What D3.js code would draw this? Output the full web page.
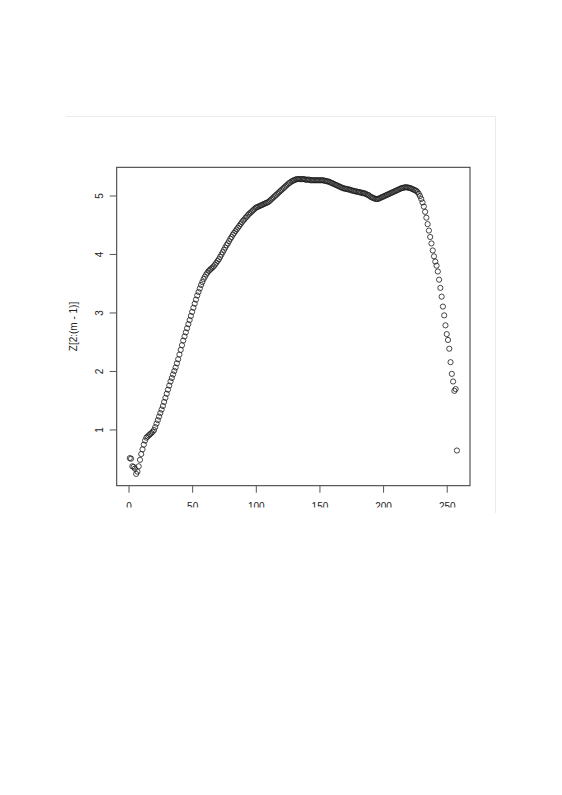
<!DOCTYPE html>
<html>
<head>
<meta charset="utf-8">
<title>Z[2:(m - 1)]</title>
<script src="https://d3js.org/d3.v7.min.js"></script>
<style>
  html, body { margin: 0; padding: 0; background: #fff; }
  svg { display: block; }
  text { font-family: "Liberation Sans", Arial, sans-serif; }
</style>
</head>
<body>
<svg id="chart" width="562" height="795"></svg>
<script>
// values (index 1..258)
var zValues = [
  0.51, 0.50, 0.37, 0.36, 0.33, 0.24, 0.28, 0.37, 0.48, 0.58,
  0.66, 0.74, 0.81, 0.86, 0.88, 0.90, 0.92, 0.94, 0.96, 0.99,
  1.04, 1.10, 1.16, 1.22, 1.28, 1.34, 1.40, 1.47, 1.54, 1.61,
  1.68, 1.75, 1.82, 1.88, 1.94, 2.00, 2.06, 2.13, 2.20, 2.28,
  2.36, 2.44, 2.52, 2.59, 2.66, 2.73, 2.80, 2.87, 2.94, 3.01,
  3.08, 3.15, 3.22, 3.29, 3.35, 3.41, 3.47, 3.52, 3.57, 3.61,
  3.65, 3.68, 3.71, 3.73, 3.75, 3.77, 3.79, 3.82, 3.85, 3.88,
  3.91, 3.95, 3.99, 4.03, 4.07, 4.11, 4.15, 4.18, 4.22, 4.26,
  4.29, 4.33, 4.36, 4.39, 4.42, 4.45, 4.48, 4.51, 4.54, 4.57,
  4.59, 4.62, 4.64, 4.67, 4.69, 4.71, 4.73, 4.75, 4.77, 4.79,
  4.80, 4.81, 4.82, 4.83, 4.84, 4.85, 4.86, 4.87, 4.88, 4.89,
  4.91, 4.93, 4.95, 4.97, 4.99, 5.01, 5.03, 5.05, 5.07, 5.09,
  5.11, 5.13, 5.15, 5.17, 5.19, 5.21, 5.22, 5.24, 5.25, 5.26,
  5.27, 5.28, 5.28, 5.28, 5.28, 5.28, 5.28, 5.28, 5.27, 5.27,
  5.27, 5.27, 5.26, 5.26, 5.26, 5.26, 5.26, 5.26, 5.26, 5.26,
  5.26, 5.26, 5.26, 5.25, 5.25, 5.24, 5.24, 5.23, 5.22, 5.21,
  5.20, 5.19, 5.18, 5.17, 5.16, 5.15, 5.14, 5.13, 5.12, 5.12,
  5.11, 5.11, 5.10, 5.10, 5.09, 5.08, 5.08, 5.07, 5.07, 5.06,
  5.06, 5.05, 5.05, 5.04, 5.04, 5.03, 5.02, 5.01, 5.00, 4.98,
  4.97, 4.96, 4.95, 4.94, 4.94, 4.94, 4.95, 4.96, 4.97, 4.98,
  4.99, 5.00, 5.01, 5.02, 5.03, 5.04, 5.05, 5.06, 5.07, 5.08,
  5.09, 5.10, 5.11, 5.12, 5.13, 5.13, 5.14, 5.14, 5.14, 5.13,
  5.13, 5.12, 5.11, 5.10, 5.09, 5.08, 5.06, 5.03, 4.99, 4.94,
  4.88, 4.81, 4.72, 4.62, 4.51, 4.40, 4.29, 4.18, 4.06, 3.96,
  3.87, 3.80, 3.70, 3.56, 3.42, 3.27, 3.10, 2.95, 2.78, 2.63,
  2.53, 2.38, 2.15, 1.95, 1.82, 1.66, 1.69, 0.64
];
var xTicks = [0, 50, 100, 150, 200, 250];
var yTicks = [1, 2, 3, 4, 5];
var yTitle = "Z[2:(m - 1)]";

var svg = d3.select("#chart");

// the page image is cut off at the bottom
svg.append("defs").append("clipPath").attr("id", "pageClip")
  .append("rect").attr("x", 0).attr("y", 0).attr("width", 562).attr("height", 507.5);

// faint page border
svg.append("line").attr("x1", 66).attr("x2", 496).attr("y1", 116.5).attr("y2", 116.5)
  .attr("stroke", "#ebebeb").attr("stroke-width", 1);
svg.append("line").attr("x1", 495.5).attr("x2", 495.5).attr("y1", 116.5).attr("y2", 513)
  .attr("stroke", "#ebebeb").attr("stroke-width", 1);

var g = svg.append("g").attr("clip-path", "url(#pageClip)");

// plot box (window.top is read only, so no "top" here)
var boxLeft = 116.7, boxRight = 470, boxTop = 167.3, boxBottom = 485.7;
var n = zValues.length;
var idx = d3.range(1, n + 1);

// R style 4% padding on both axes
var xPad = (n - 1) * 0.04;
var x = d3.scaleLinear().domain([1 - xPad, n + xPad]).range([boxLeft, boxRight]);
var ext = d3.extent(zValues);
var yPad = (ext[1] - ext[0]) * 0.04;
var y = d3.scaleLinear().domain([ext[0] - yPad, ext[1] + yPad]).range([boxBottom, boxTop]);

// points
g.append("g")
  .selectAll("circle")
  .data(zValues)
  .enter()
  .append("circle")
  .attr("cx", (d, i) => x(idx[i]))
  .attr("cy", d => y(d))
  .attr("r", 2.6)
  .attr("fill", "none")
  .attr("stroke", "#1a1a1a")
  .attr("stroke-width", 0.8);

// frame
g.append("rect")
  .attr("x", boxLeft).attr("y", boxTop)
  .attr("width", boxRight - boxLeft).attr("height", boxBottom - boxTop)
  .attr("fill", "none").attr("stroke", "#333").attr("stroke-width", 1);

// x axis
var xAxis = g.append("g")
  .attr("transform", "translate(0," + boxBottom + ")")
  .call(d3.axisBottom(x).tickValues(xTicks).tickSize(7).tickPadding(4).tickFormat(d3.format("d")));
xAxis.select(".domain").remove();
xAxis.selectAll("line").attr("stroke", "#555");
xAxis.selectAll("text")
  .attr("y", 24.8).attr("dy", null)
  .attr("fill", "#222").style("font-size", "10px");

// y axis, labels turned like R's default las = 0
var yAxis = g.append("g")
  .attr("transform", "translate(" + boxLeft + ",0)")
  .call(d3.axisLeft(y).tickValues(yTicks).tickSize(7).tickFormat(d3.format("d")));
yAxis.select(".domain").remove();
yAxis.selectAll("line").attr("stroke", "#555");
yAxis.selectAll("text")
  .attr("x", null).attr("dy", null)
  .attr("text-anchor", "middle")
  .attr("transform", "translate(-14,0) rotate(-90)")
  .attr("fill", "#222").style("font-size", "10px");

// axis title
g.append("text")
  .attr("transform", "translate(77," + ((boxTop + boxBottom) / 2) + ") rotate(-90)")
  .attr("text-anchor", "middle")
  .attr("fill", "#222")
  .style("font-size", "10px")
  .text(yTitle);
</script>
</body>
</html>
